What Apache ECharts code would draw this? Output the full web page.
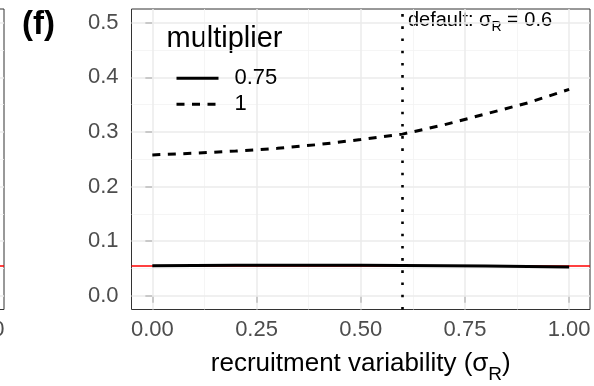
<!DOCTYPE html>
<html>
<head>
<meta charset="utf-8">
<script src="https://cdn.jsdelivr.net/npm/echarts@6/dist/echarts.min.js"></script>
<style>
  html, body { margin: 0; padding: 0; background: #ffffff; }
  #chart { width: 594px; height: 386px; }
</style>
</head>
<body>
<div id="chart"></div>
<script>
// Recruitment variability values (sigma_R) on the x axis
const sigmaR = [0, 0.1, 0.2, 0.3, 0.4, 0.5, 0.6, 0.7, 0.8, 0.9, 1.0];
// Response for each multiplier level
const mult075 = [0.0553, 0.0556, 0.0558, 0.0559, 0.0559, 0.0558, 0.0556, 0.0552, 0.0546, 0.0538, 0.0528];
const mult100 = [0.258, 0.261, 0.265, 0.270, 0.277, 0.286, 0.296, 0.313, 0.333, 0.353, 0.378];
const seriesNames = ['0.75', '1'];

// Tick positions and grid lines
const xTicks = [0, 0.25, 0.5, 0.75, 1];
const xMinor = [0.125, 0.375, 0.625, 0.875];
const yTicks = [0, 0.1, 0.2, 0.3, 0.4, 0.5];
const yMinor = [0.05, 0.15, 0.25, 0.35, 0.45];

// Reference levels
const refLevel = 0.0546;      // red horizontal reference
const defaultSigma = 0.6;     // dotted vertical marker
const annotationY = 0.5;

const FONT = '"Liberation Sans", Arial, Helvetica, sans-serif';
const chart = echarts.init(document.getElementById('chart'), null, { renderer: 'canvas' });

function gridLines() {
  const major = { color: '#EBEBEB', width: 1.5, type: 'solid' };
  const minor = { color: '#F2F2F2', width: 0.8, type: 'solid' };
  const out = [];
  xMinor.forEach(v => out.push({ xAxis: v, lineStyle: minor }));
  yMinor.forEach(v => out.push({ yAxis: v, lineStyle: minor }));
  xTicks.forEach(v => out.push({ xAxis: v, lineStyle: major }));
  yTicks.forEach(v => out.push({ yAxis: v, lineStyle: major }));
  return out;
}

function backgroundSeries(idx) {
  return [{
    type: 'line', xAxisIndex: idx, yAxisIndex: idx, data: [], silent: true,
    markLine: { z: 1, silent: true, precision: 6, symbol: ['none', 'none'], label: { show: false },
      animation: false, data: gridLines() }
  }, {
    type: 'line', xAxisIndex: idx, yAxisIndex: idx, data: [], silent: true,
    markLine: { z: 2, silent: true, precision: 6, symbol: ['none', 'none'], label: { show: false },
      animation: false,
      data: [{ yAxis: refLevel, lineStyle: { color: '#FF0000', width: 1.7, type: 'solid' } }] }
  }];
}

function xAxisFor(i) {
  return {
    type: 'value', gridIndex: i, min: -0.05, max: 1.05,
    axisLine: { show: false }, splitLine: { show: false },
    axisTick: { show: true, customValues: xTicks, length: 7, lineStyle: { color: '#333333', width: 1.5 } },
    axisLabel: { customValues: xTicks, formatter: v => v.toFixed(2), margin: 9,
      fontSize: 22, color: '#4D4D4D', fontFamily: FONT },
    name: i === 0 ? '{a|recruitment variability (σ}{s|R}{a|)}' : '',
    nameLocation: 'middle', nameGap: 41,
    nameTextStyle: {
      fontFamily: FONT, color: '#000000',
      rich: {
        a: { fontSize: 26, lineHeight: 26, verticalAlign: 'top', color: '#000000', fontFamily: FONT },
        s: { fontSize: 19, lineHeight: 19, verticalAlign: 'top', padding: [15, 0, 0, 0], color: '#000000', fontFamily: FONT }
      }
    }
  };
}

function yAxisFor(i) {
  return {
    type: 'value', gridIndex: i, min: -0.025, max: 0.525,
    axisLine: { show: false }, splitLine: { show: false },
    axisTick: { show: true, customValues: yTicks, length: 7, lineStyle: { color: '#333333', width: 1.5 } },
    axisLabel: { customValues: yTicks, formatter: v => v.toFixed(1), margin: 13,
      fontSize: 22, color: '#4D4D4D', fontFamily: FONT }
  };
}

const option = {
  animation: false,
  textStyle: { fontFamily: FONT },
  grid: [
    { left: 131.5, right: 4, top: 9, bottom: 76.5, show: true, outerBoundsMode: 'none',
      containLabel: false, borderColor: '#333333', borderWidth: 1, backgroundColor: '#ffffff' },
    { left: -454.5, width: 458.5, top: 9, bottom: 76.5, show: true, outerBoundsMode: 'none',
      containLabel: false, borderColor: '#333333', borderWidth: 1, backgroundColor: '#ffffff' }
  ],
  xAxis: [xAxisFor(0), xAxisFor(1)],
  yAxis: [yAxisFor(0), yAxisFor(1)],
  legend: {
    left: 170, top: 62.3, orient: 'vertical',
    itemWidth: 42, itemHeight: 16, itemGap: 4,
    data: seriesNames,
    itemStyle: { color: 'transparent', borderWidth: 0, opacity: 0 },
    lineStyle: { width: 3, color: '#000000' },
    textStyle: { fontSize: 22, lineHeight: 16, color: '#000000', fontFamily: FONT, padding: [0, 0, 0, 11] }
  },
  series: [
    ...backgroundSeries(0),
    ...backgroundSeries(1),
    {
      name: seriesNames[0], type: 'line', xAxisIndex: 0, yAxisIndex: 0, z: 3,
      data: sigmaR.map((x, k) => [x, mult075[k]]),
      showSymbol: false, symbol: 'none', smooth: false,
      lineStyle: { color: '#000000', width: 3, type: 'solid' },
      itemStyle: { color: '#000000' }
    },
    {
      name: seriesNames[1], type: 'line', xAxisIndex: 0, yAxisIndex: 0, z: 3,
      data: sigmaR.map((x, k) => [x, mult100[k]]),
      showSymbol: false, symbol: 'none', smooth: false,
      lineStyle: { color: '#000000', width: 3, type: [8, 7.5], cap: 'butt' },
      itemStyle: { color: '#000000' },
      markLine: { z: 4, silent: true, precision: 6, symbol: ['none', 'none'], label: { show: false },
        animation: false,
        data: [{ xAxis: defaultSigma, lineStyle: { color: '#000000', width: 2.6, type: [2.6, 9.6] } }] }
    }
  ]
};
chart.setOption(option);

// Text placed in data coordinates
const anchor = chart.convertToPixel({ gridIndex: 0 }, [defaultSigma, annotationY]);
chart.setOption({
  graphic: [
    { type: 'text', x: 22, y: 24.5, silent: true,
      style: { text: '(f)', fontSize: 33, fontWeight: 'bold', fontFamily: FONT,
        fill: '#000000', verticalAlign: 'middle', align: 'left' } },
    { type: 'text', x: 166.5, y: 38.6, silent: true,
      style: { text: 'multiplier', fontSize: 29, fontFamily: FONT, fill: '#000000',
        verticalAlign: 'middle', align: 'left' } },
    { type: 'text', x: anchor[0] + 5.5, y: anchor[1] - 12, silent: true,
      style: {
        text: '{a|default: σ}{s|R}{a| = 0.6}', verticalAlign: 'top', align: 'left',
        fontFamily: FONT, fill: '#000000',
        rich: {
          a: { fontSize: 20, lineHeight: 20, verticalAlign: 'top', fontFamily: FONT, fill: '#000000' },
          s: { fontSize: 14, lineHeight: 14, verticalAlign: 'top', padding: [9, 0, 0, 0], fontFamily: FONT, fill: '#000000' }
        }
      } }
  ]
});
</script>
</body>
</html>
